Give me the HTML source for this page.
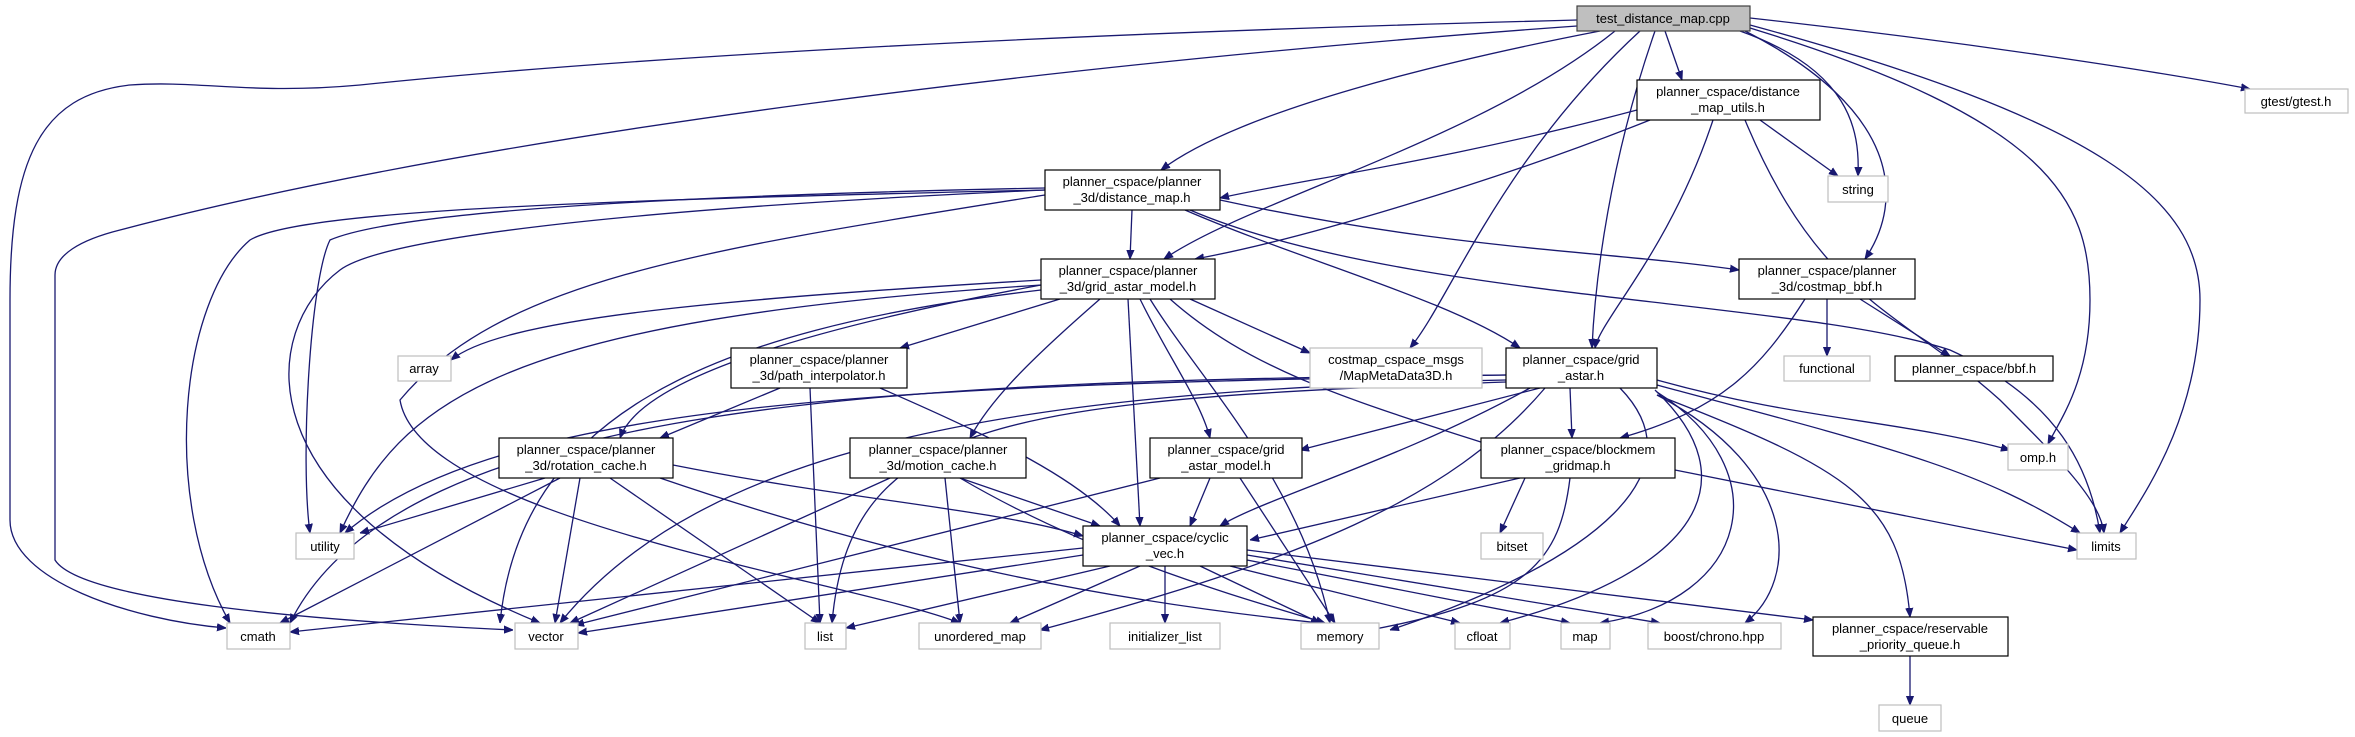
<!DOCTYPE html>
<html><head><meta charset="utf-8"><style>
html,body{margin:0;padding:0;background:#fff;}
svg{display:block;}
text{font-family:"Liberation Sans",sans-serif;font-size:13px;fill:#000;text-anchor:middle;}
.e{fill:none;stroke:#191970;stroke-width:1.3;marker-end:url(#a);}
.n{fill:#fff;stroke:#000;stroke-width:1.2;}
.x{fill:#fff;stroke:#bfbfbf;stroke-width:1.2;}
</style></head><body>
<svg width="2355" height="737" viewBox="0 0 2355 737" xmlns="http://www.w3.org/2000/svg">
<defs><marker id="a" viewBox="0 0 10 10" refX="10" refY="5" markerWidth="9" markerHeight="9" markerUnits="userSpaceOnUse" orient="auto"><path d="M0,1 L10,5 L0,9 z" fill="#191970" stroke="#191970"/></marker></defs>
<!-- edges from cpp -->
<path class="e" d="M1577,20 C1000,35 600,60 360,85 C250,95 200,80 130,85 C40,95 10,160 10,300 L10,520 C10,580 130,620 226,628"/>
<path class="e" d="M1577,26 C1100,60 500,130 120,230 C80,240 55,255 55,275 L55,560 C80,600 300,620 513,630"/>
<path class="e" d="M1600,31 C1450,60 1240,110 1161,170"/>
<path class="e" d="M1615,31 C1480,140 1250,200 1164,259"/>
<path class="e" d="M1665,31 L1682,80"/>
<path class="e" d="M1640,31 C1500,160 1450,300 1410,348"/>
<path class="e" d="M1655,31 C1610,160 1595,280 1592,348"/>
<path class="e" d="M1740,31 C1850,70 1860,130 1858,176"/>
<path class="e" d="M1745,31 C1900,110 1905,200 1865,259"/>
<path class="e" d="M1750,28 C2050,120 2090,200 2090,300 C2090,380 2060,420 2048,444"/>
<path class="e" d="M1750,25 C2100,120 2200,200 2200,300 C2200,420 2140,500 2120,533"/>
<path class="e" d="M1750,18 C1950,40 2150,70 2250,89"/>
<!-- utils -->
<path class="e" d="M1637,110 C1450,160 1300,180 1220,198"/>
<path class="e" d="M1650,120 C1500,180 1300,240 1195,259"/>
<path class="e" d="M1713,120 C1670,250 1600,320 1595,348"/>
<path class="e" d="M1760,120 L1838,176"/>
<path class="e" d="M1745,120 C1820,300 1900,310 2000,400 C2060,460 2100,500 2104,533"/>
<!-- distance_map.h -->
<path class="e" d="M1132,210 L1130,259"/>
<path class="e" d="M1220,200 C1450,250 1600,250 1739,270"/>
<path class="e" d="M1185,210 C1300,260 1450,300 1520,348"/>
<path class="e" d="M1190,210 C1400,300 1800,300 1950,350 C2060,400 2090,470 2100,533"/>
<path class="e" d="M1045,188 C700,195 400,210 330,240 C310,280 300,460 310,533"/>
<path class="e" d="M1045,190 C600,200 300,210 250,240 C180,300 160,500 230,623"/>
<path class="e" d="M1045,190 C600,210 380,240 340,270 C260,330 240,500 540,623"/>
<path class="e" d="M1045,195 C700,250 500,280 400,400 C420,520 850,580 960,623"/>
<!-- grid_astar_model 3d -->
<path class="e" d="M1041,280 C700,300 500,320 451,360"/>
<path class="e" d="M1060,299 L900,348"/>
<path class="e" d="M1041,285 C800,330 640,380 620,438"/>
<path class="e" d="M1100,299 C1030,360 990,400 970,438"/>
<path class="e" d="M1140,299 C1170,360 1200,400 1210,438"/>
<path class="e" d="M1128,299 L1140,526"/>
<path class="e" d="M1150,299 C1200,380 1300,480 1330,623"/>
<path class="e" d="M1190,299 L1310,353"/>
<path class="e" d="M1170,299 C1250,370 1350,400 1490,445"/>
<path class="e" d="M1041,285 C500,320 400,400 340,533"/>
<path class="e" d="M1041,290 C700,330 520,420 500,623"/>
<!-- path interp -->
<path class="e" d="M780,388 L660,438"/>
<path class="e" d="M810,388 L820,623"/>
<path class="e" d="M880,388 C1000,440 1080,480 1120,526"/>
<!-- grid_astar.h -->
<path class="e" d="M1506,375 C900,380 400,400 290,623"/>
<path class="e" d="M1506,375 C900,385 500,400 345,533"/>
<path class="e" d="M1506,380 C1000,390 700,450 560,623"/>
<path class="e" d="M1506,382 C1000,400 850,420 832,623"/>
<path class="e" d="M1540,388 L1300,450"/>
<path class="e" d="M1570,388 L1572,438"/>
<path class="e" d="M1530,388 C1400,460 1260,500 1220,526"/>
<path class="e" d="M1545,388 C1450,500 1300,560 1040,630"/>
<path class="e" d="M1620,388 C1700,470 1600,560 1390,630"/>
<path class="e" d="M1655,390 C1750,480 1700,570 1500,623"/>
<path class="e" d="M1657,392 C1780,470 1750,600 1600,623"/>
<path class="e" d="M1657,395 C1800,470 1800,580 1745,623"/>
<path class="e" d="M1657,395 C1850,470 1900,500 1910,617"/>
<path class="e" d="M1657,380 C1800,420 1900,420 2010,450"/>
<path class="e" d="M1657,385 C1900,450 1980,470 2080,533"/>
<!-- costmap_bbf -->
<path class="e" d="M1827,299 L1827,356"/>
<path class="e" d="M1860,299 L1950,356"/>
<path class="e" d="M1805,299 C1760,370 1720,410 1620,438"/>
<!-- rotation cache -->
<path class="e" d="M545,478 L360,533"/>
<path class="e" d="M560,478 L280,623"/>
<path class="e" d="M580,478 L555,623"/>
<path class="e" d="M610,478 L820,623"/>
<path class="e" d="M673,465 C850,500 1000,510 1083,536"/>
<path class="e" d="M660,478 C900,560 1100,600 1320,623"/>
<!-- motion cache -->
<path class="e" d="M890,478 L570,623"/>
<path class="e" d="M945,478 L960,623"/>
<path class="e" d="M960,478 L1100,526"/>
<path class="e" d="M960,478 C1100,560 1250,600 1325,623"/>
<!-- grid astar_model.h -->
<path class="e" d="M1160,478 L575,625"/>
<path class="e" d="M1210,478 L1190,526"/>
<path class="e" d="M1240,478 L1335,623"/>
<!-- blockmem -->
<path class="e" d="M1525,478 L1500,533"/>
<path class="e" d="M1570,478 C1560,560 1530,600 1370,630"/>
<path class="e" d="M1520,478 L1250,540"/>
<path class="e" d="M1675,470 L2077,550"/>
<!-- cyclic vec -->
<path class="e" d="M1083,548 L290,632"/>
<path class="e" d="M1083,555 L578,633"/>
<path class="e" d="M1110,566 L846,628"/>
<path class="e" d="M1140,566 L1010,623"/>
<path class="e" d="M1165,566 L1165,623"/>
<path class="e" d="M1200,566 L1320,623"/>
<path class="e" d="M1230,566 L1460,623"/>
<path class="e" d="M1247,560 L1570,623"/>
<path class="e" d="M1247,555 L1660,623"/>
<path class="e" d="M1247,550 L1813,620"/>
<path class="e" d="M1910,656 L1910,705"/>
<!-- nodes -->
<rect x="1577" y="6" width="173" height="25" fill="#bfbfbf" stroke="#404040" stroke-width="1.2"/><text x="1663" y="23">test_distance_map.cpp</text>
<rect class="n" x="1637" y="80" width="183" height="40"/><text x="1728" y="96">planner_cspace/distance</text><text x="1728" y="112">_map_utils.h</text>
<rect class="x" x="2245" y="89" width="103" height="24"/><text x="2296" y="106">gtest/gtest.h</text>
<rect class="x" x="1828" y="176" width="60" height="26"/><text x="1858" y="194">string</text>
<rect class="n" x="1045" y="170" width="175" height="40"/><text x="1132" y="186">planner_cspace/planner</text><text x="1132" y="202">_3d/distance_map.h</text>
<rect class="n" x="1041" y="259" width="174" height="40"/><text x="1128" y="275">planner_cspace/planner</text><text x="1128" y="291">_3d/grid_astar_model.h</text>
<rect class="n" x="1739" y="259" width="176" height="40"/><text x="1827" y="275">planner_cspace/planner</text><text x="1827" y="291">_3d/costmap_bbf.h</text>
<rect class="x" x="398" y="356" width="53" height="25"/><text x="424" y="373">array</text>
<rect class="n" x="731" y="348" width="176" height="40"/><text x="819" y="364">planner_cspace/planner</text><text x="819" y="380">_3d/path_interpolator.h</text>
<rect class="x" x="1310" y="348" width="172" height="40"/><text x="1396" y="364">costmap_cspace_msgs</text><text x="1396" y="380">/MapMetaData3D.h</text>
<rect class="n" x="1506" y="348" width="151" height="40"/><text x="1581" y="364">planner_cspace/grid</text><text x="1581" y="380">_astar.h</text>
<rect class="x" x="1784" y="356" width="86" height="25"/><text x="1827" y="373">functional</text>
<rect class="n" x="1895" y="356" width="158" height="25"/><text x="1974" y="373">planner_cspace/bbf.h</text>
<rect class="n" x="499" y="438" width="174" height="40"/><text x="586" y="454">planner_cspace/planner</text><text x="586" y="470">_3d/rotation_cache.h</text>
<rect class="n" x="850" y="438" width="176" height="40"/><text x="938" y="454">planner_cspace/planner</text><text x="938" y="470">_3d/motion_cache.h</text>
<rect class="n" x="1150" y="438" width="152" height="40"/><text x="1226" y="454">planner_cspace/grid</text><text x="1226" y="470">_astar_model.h</text>
<rect class="n" x="1481" y="438" width="194" height="40"/><text x="1578" y="454">planner_cspace/blockmem</text><text x="1578" y="470">_gridmap.h</text>
<rect class="x" x="2008" y="444" width="60" height="26"/><text x="2038" y="462">omp.h</text>
<rect class="x" x="296" y="533" width="58" height="26"/><text x="325" y="551">utility</text>
<rect class="n" x="1083" y="526" width="164" height="40"/><text x="1165" y="542">planner_cspace/cyclic</text><text x="1165" y="558">_vec.h</text>
<rect class="x" x="1481" y="533" width="62" height="26"/><text x="1512" y="551">bitset</text>
<rect class="x" x="2077" y="533" width="59" height="26"/><text x="2106" y="551">limits</text>
<rect class="x" x="227" y="623" width="63" height="26"/><text x="258" y="641">cmath</text>
<rect class="x" x="515" y="623" width="63" height="26"/><text x="546" y="641">vector</text>
<rect class="x" x="805" y="623" width="41" height="26"/><text x="825" y="641">list</text>
<rect class="x" x="919" y="623" width="122" height="26"/><text x="980" y="641">unordered_map</text>
<rect class="x" x="1110" y="623" width="110" height="26"/><text x="1165" y="641">initializer_list</text>
<rect class="x" x="1301" y="623" width="78" height="26"/><text x="1340" y="641">memory</text>
<rect class="x" x="1455" y="623" width="55" height="26"/><text x="1482" y="641">cfloat</text>
<rect class="x" x="1561" y="623" width="49" height="26"/><text x="1585" y="641">map</text>
<rect class="x" x="1648" y="623" width="133" height="26"/><text x="1714" y="641">boost/chrono.hpp</text>
<rect class="n" x="1813" y="617" width="195" height="39"/><text x="1910" y="633">planner_cspace/reservable</text><text x="1910" y="649">_priority_queue.h</text>
<rect class="x" x="1879" y="705" width="62" height="26"/><text x="1910" y="723">queue</text>
</svg>
</body></html>
